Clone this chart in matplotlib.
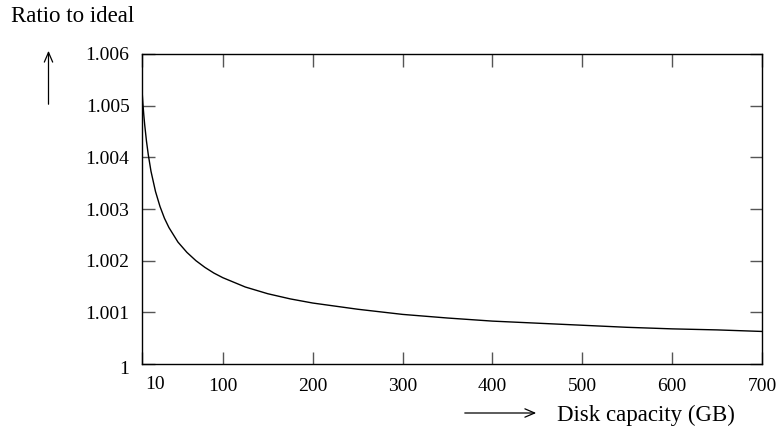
import matplotlib
matplotlib.use("Agg")
import matplotlib.pyplot as plt
import matplotlib.transforms as mtransforms

# capacidad de disco (GB) y razon respecto al ideal
capacidad = [10, 11, 12, 13, 14, 15, 17, 20, 25, 30, 35, 40, 50, 60, 70, 80, 90,
             100, 125, 150, 175, 200, 250, 300, 350, 400, 450, 500, 550, 600, 650, 700]
razon = [1.00530, 1.00504, 1.00482, 1.00463, 1.00447, 1.00431, 1.00405, 1.00373,
         1.00334, 1.00305, 1.00282, 1.00264, 1.00236, 1.00216, 1.00200, 1.00187,
         1.00176, 1.00167, 1.00149, 1.00136, 1.00126, 1.00118, 1.00106, 1.00096,
         1.00089, 1.00083, 1.00079, 1.00075, 1.00071, 1.00068, 1.00066, 1.00063]

xticks = [10, 100, 200, 300, 400, 500, 600, 700]
yticks = [1, 1.001, 1.002, 1.003, 1.004, 1.005, 1.006]
ylabels = ["1", "1.001", "1.002", "1.003", "1.004", "1.005", "1.006"]

plt.rcParams['font.family'] = ['Liberation Serif', 'DejaVu Serif']

fig = plt.figure(figsize=(7.76, 4.30), dpi=100)
ax = fig.add_axes([142 / 776, 1 - 364 / 430, 620 / 776, 310 / 430])

ax.plot(capacidad, razon, color='black', linewidth=1.0)

ax.set_xlim(10, 700)
ax.set_ylim(1, 1.006)
ax.set_xticks(xticks)
ax.set_xticklabels([str(t) for t in xticks])
ax.set_yticks(yticks)
ax.set_yticklabels(ylabels)

ax.tick_params(direction='in', length=9, width=1, color='#555555',
               top=True, right=True, labelsize=14)
ax.tick_params(axis='x', pad=10)
ax.tick_params(axis='y', pad=9)
for s in ax.spines.values():
    s.set_linewidth(1.0)

# la etiqueta "10" aparece algo corrida a la derecha y arriba
lbl10 = ax.get_xticklabels()[0]
lbl10.set_transform(lbl10.get_transform() +
                    mtransforms.ScaledTranslation(13 / 100, 2 / 100, fig.dpi_scale_trans))
# y el "1" del eje y algo mas abajo
lbl1 = ax.get_yticklabels()[0]
lbl1.set_transform(lbl1.get_transform() +
                   mtransforms.ScaledTranslation(0, -3 / 100, fig.dpi_scale_trans))

fig.text(11 / 776, 1 - 16 / 430, "Ratio to ideal", fontsize=16.5, va='center', ha='left')
fig.text(557 / 776, 1 - 415 / 430, "Disk capacity (GB)", fontsize=16.5, va='center', ha='left')

# flechas
fig.patches.append(matplotlib.patches.FancyArrowPatch(
    (48.5 / 776, 1 - 107 / 430), (48.5 / 776, 1 - 48 / 430), transform=fig.transFigure,
    arrowstyle='->,head_length=7,head_width=3', color='black', linewidth=0.9))
fig.patches.append(matplotlib.patches.FancyArrowPatch(
    (462 / 776, 1 - 413 / 430), (539 / 776, 1 - 413 / 430), transform=fig.transFigure,
    arrowstyle='->,head_length=7,head_width=3', color='black', linewidth=0.9))

fig.savefig("out.png", dpi=100)
